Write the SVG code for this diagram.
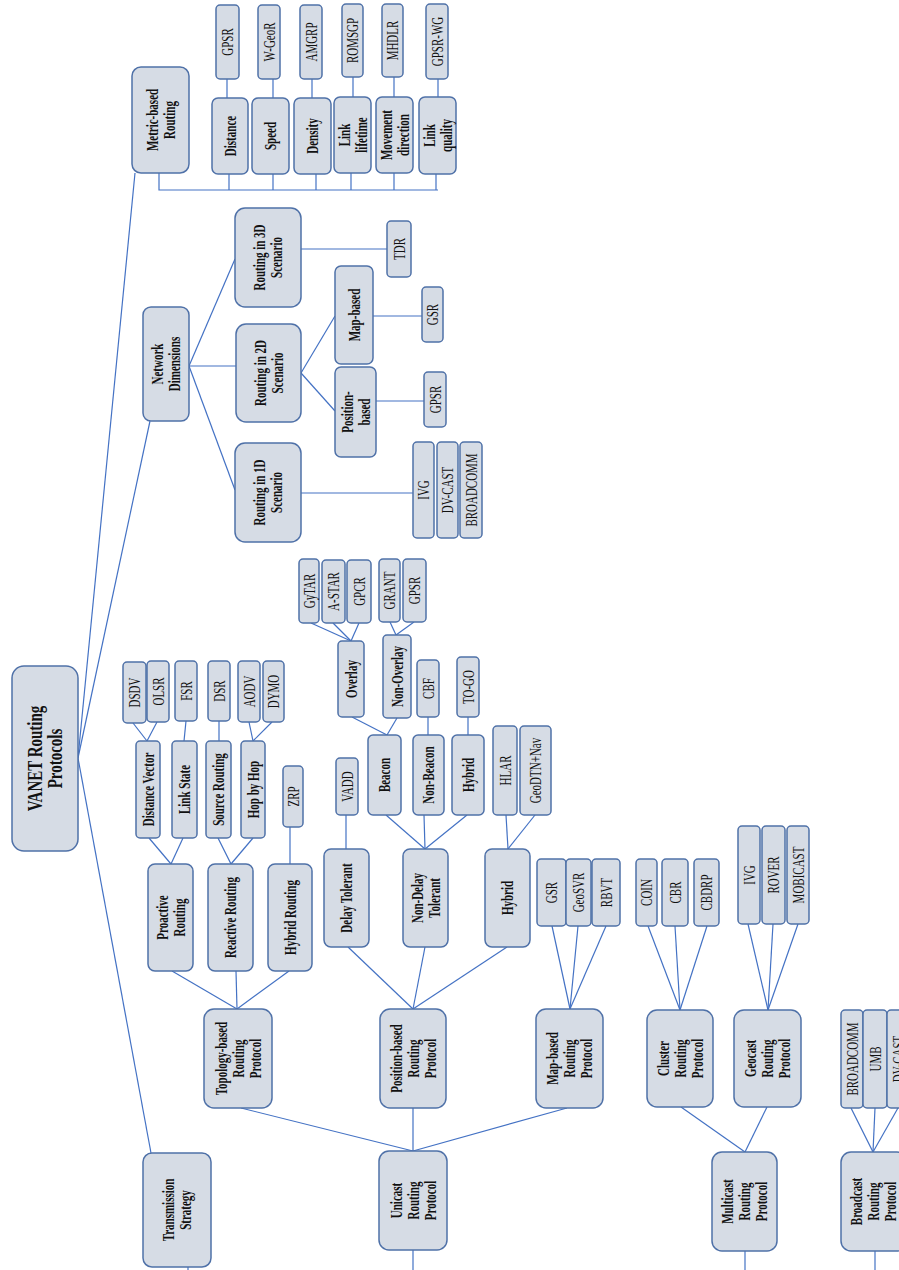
<svg xmlns="http://www.w3.org/2000/svg" width="899" height="1270" viewBox="0 0 899 1270">
<style>
rect{fill:#d6dce5;stroke:#4f71a8;stroke-width:1.5}
#connectors line,#connectors polyline{stroke:#4472c4;stroke-width:1.2;fill:none}
text{font-family:"Liberation Serif","Times New Roman",serif;fill:#111;text-anchor:middle}
.b{font-size:11px;font-weight:bold}
.r{font-size:11px}
.h{font-size:15px;font-weight:bold}
</style>
<rect width="899" height="1270" style="fill:#fff;stroke:none"/>
<g id="connectors">
<line x1="78" y1="758" x2="135" y2="173"/>
<line x1="78" y1="758" x2="150" y2="421"/>
<line x1="78" y1="758" x2="151" y2="1153"/>
<polyline points="159,173 159,190 438,190"/>
<line x1="229" y1="174" x2="229" y2="190"/>
<line x1="273" y1="174" x2="273" y2="190"/>
<line x1="316" y1="174" x2="316" y2="190"/>
<line x1="351" y1="173" x2="351" y2="190"/>
<line x1="394" y1="173" x2="394" y2="190"/>
<line x1="436" y1="174" x2="436" y2="190"/>
<line x1="227" y1="79" x2="227" y2="98"/>
<line x1="273" y1="79" x2="273" y2="98"/>
<line x1="312" y1="79" x2="312" y2="98"/>
<line x1="353" y1="77" x2="353" y2="97"/>
<line x1="394" y1="77" x2="394" y2="97"/>
<line x1="438" y1="79" x2="438" y2="97"/>
<line x1="189" y1="366" x2="235" y2="259"/>
<line x1="189" y1="366" x2="236" y2="366"/>
<line x1="189" y1="366" x2="235" y2="490"/>
<line x1="301" y1="249" x2="387" y2="249"/>
<line x1="301" y1="373" x2="335" y2="316"/>
<line x1="301" y1="373" x2="335" y2="411"/>
<line x1="373" y1="316" x2="422" y2="316"/>
<line x1="376" y1="401" x2="424" y2="401"/>
<line x1="301" y1="493" x2="413" y2="493"/>
<line x1="133" y1="723" x2="147" y2="741"/>
<line x1="157" y1="722" x2="147" y2="741"/>
<line x1="186" y1="721" x2="184" y2="741"/>
<line x1="219" y1="721" x2="219" y2="741"/>
<line x1="249" y1="722" x2="253" y2="741"/>
<line x1="272" y1="722" x2="253" y2="741"/>
<line x1="149" y1="838" x2="171" y2="864"/>
<line x1="183" y1="838" x2="171" y2="864"/>
<line x1="218" y1="838" x2="231" y2="864"/>
<line x1="253" y1="838" x2="231" y2="864"/>
<line x1="290" y1="827" x2="290" y2="864"/>
<line x1="172" y1="971" x2="237" y2="1009"/>
<line x1="236" y1="971" x2="237" y2="1009"/>
<line x1="289" y1="971" x2="237" y2="1009"/>
<line x1="311" y1="623" x2="351" y2="641"/>
<line x1="333" y1="623" x2="351" y2="641"/>
<line x1="359" y1="623" x2="351" y2="641"/>
<line x1="390" y1="622" x2="396" y2="635"/>
<line x1="414" y1="622" x2="396" y2="635"/>
<line x1="352" y1="717" x2="387" y2="735"/>
<line x1="397" y1="718" x2="387" y2="735"/>
<line x1="428" y1="717" x2="428" y2="735"/>
<line x1="468" y1="717" x2="468" y2="735"/>
<line x1="346" y1="815" x2="346" y2="849"/>
<line x1="386" y1="815" x2="425" y2="849"/>
<line x1="424" y1="815" x2="425" y2="849"/>
<line x1="467" y1="815" x2="425" y2="849"/>
<line x1="506" y1="815" x2="508" y2="849"/>
<line x1="535" y1="815" x2="508" y2="849"/>
<line x1="348" y1="947" x2="413" y2="1009"/>
<line x1="425" y1="947" x2="413" y2="1009"/>
<line x1="507" y1="947" x2="413" y2="1009"/>
<line x1="552" y1="926" x2="570" y2="1009"/>
<line x1="578" y1="926" x2="570" y2="1009"/>
<line x1="606" y1="926" x2="570" y2="1009"/>
<line x1="648" y1="926" x2="680" y2="1010"/>
<line x1="675" y1="926" x2="680" y2="1010"/>
<line x1="707" y1="926" x2="680" y2="1010"/>
<line x1="748" y1="924" x2="768" y2="1010"/>
<line x1="773" y1="924" x2="768" y2="1010"/>
<line x1="798" y1="924" x2="768" y2="1010"/>
<line x1="241" y1="1108" x2="413" y2="1151"/>
<line x1="413" y1="1108" x2="413" y2="1151"/>
<line x1="567" y1="1108" x2="413" y2="1151"/>
<line x1="681" y1="1107" x2="745" y2="1152"/>
<line x1="767" y1="1107" x2="745" y2="1152"/>
<line x1="851" y1="1108" x2="873" y2="1152"/>
<line x1="875" y1="1108" x2="873" y2="1152"/>
<line x1="898" y1="1108" x2="873" y2="1152"/>
<line x1="413" y1="1250" x2="413" y2="1270"/>
<line x1="745" y1="1251" x2="745" y2="1270"/>
<line x1="875" y1="1251" x2="875" y2="1270"/>
<line x1="188" y1="1267" x2="188" y2="1270"/>
</g>

<g id="root"><rect x="12" y="666" width="66" height="185" rx="12"/><text class="h" transform="translate(45 758.5) rotate(-90) scale(1 1.45)"><tspan x="0" y="-2">VANET Routing</tspan><tspan x="0" y="12">Protocols</tspan></text></g>
<g id="metric"><rect x="132" y="67" width="57" height="106" rx="9"/><text class="b" transform="translate(160.5 120) rotate(-90) scale(1 1.55)"><tspan x="0" y="-1.8">Metric-based</tspan><tspan x="0" y="9.2">Routing</tspan></text></g>
<g id="netdim"><rect x="143" y="307" width="46" height="114" rx="8"/><text class="b" transform="translate(166 364) rotate(-90) scale(1 1.55)"><tspan x="0" y="-1.8">Network</tspan><tspan x="0" y="9.2">Dimensions</tspan></text></g>
<g id="trans"><rect x="143" y="1153" width="68" height="114" rx="9"/><text class="b" transform="translate(177 1210) rotate(-90) scale(1 1.55)"><tspan x="0" y="-1.8">Transmission</tspan><tspan x="0" y="9.2">Strategy</tspan></text></g>

<g id="m-distance"><rect x="212" y="98" width="36" height="76" rx="6"/><text class="b" transform="translate(230 136) rotate(-90) scale(1 1.55)"><tspan x="0" y="3.7">Distance</tspan></text></g>
<g id="m-speed"><rect x="252" y="98" width="37" height="76" rx="6"/><text class="b" transform="translate(270.5 136) rotate(-90) scale(1 1.55)"><tspan x="0" y="3.7">Speed</tspan></text></g>
<g id="m-density"><rect x="294" y="98" width="37" height="76" rx="6"/><text class="b" transform="translate(312.5 136) rotate(-90) scale(1 1.55)"><tspan x="0" y="3.7">Density</tspan></text></g>
<g id="m-lifetime"><rect x="334" y="97" width="37" height="76" rx="6"/><text class="b" transform="translate(352.5 135) rotate(-90) scale(1 1.55)"><tspan x="0" y="-1.8">Link</tspan><tspan x="0" y="9.2">lifetime</tspan></text></g>
<g id="m-movement"><rect x="376" y="97" width="37" height="76" rx="6"/><text class="b" transform="translate(394.5 135) rotate(-90) scale(1 1.55)"><tspan x="0" y="-1.8">Movement</tspan><tspan x="0" y="9.2">direction</tspan></text></g>
<g id="m-quality"><rect x="419" y="97" width="37" height="77" rx="6"/><text class="b" transform="translate(437.5 135.5) rotate(-90) scale(1 1.55)"><tspan x="0" y="-1.8">Link</tspan><tspan x="0" y="9.2">quality</tspan></text></g>

<g id="l-gpsr1"><rect x="216" y="5" width="23" height="74" rx="4"/><text class="r" transform="translate(227.5 42) rotate(-90) scale(1 1.55)"><tspan x="0" y="3.7">GPSR</tspan></text></g>
<g id="l-wgeor"><rect x="258" y="5" width="22" height="74" rx="4"/><text class="r" transform="translate(269 42) rotate(-90) scale(1 1.55)"><tspan x="0" y="3.7">W-GeoR</tspan></text></g>
<g id="l-amgrp"><rect x="300" y="5" width="22" height="74" rx="4"/><text class="r" transform="translate(311 42) rotate(-90) scale(1 1.55)"><tspan x="0" y="3.7">AMGRP</tspan></text></g>
<g id="l-romsgp"><rect x="342" y="4" width="21" height="73" rx="4"/><text class="r" transform="translate(352.5 40.5) rotate(-90) scale(1 1.55)"><tspan x="0" y="3.7">ROMSGP</tspan></text></g>
<g id="l-mhdlr"><rect x="382" y="4" width="21" height="73" rx="4"/><text class="r" transform="translate(392.5 40.5) rotate(-90) scale(1 1.55)"><tspan x="0" y="3.7">MHDLR</tspan></text></g>
<g id="l-gpsrwg"><rect x="426" y="4" width="22" height="75" rx="4"/><text class="r" transform="translate(437 41.5) rotate(-90) scale(1 1.55)"><tspan x="0" y="3.7">GPSR-WG</tspan></text></g>

<g id="nd-3d"><rect x="235" y="208" width="66" height="99" rx="10"/><text class="b" transform="translate(268 257.5) rotate(-90) scale(1 1.55)"><tspan x="0" y="-1.8">Routing in 3D</tspan><tspan x="0" y="9.2">Scenario</tspan></text></g>
<g id="nd-2d"><rect x="236" y="324" width="65" height="98" rx="10"/><text class="b" transform="translate(268.5 373) rotate(-90) scale(1 1.55)"><tspan x="0" y="-1.8">Routing in 2D</tspan><tspan x="0" y="9.2">Scenario</tspan></text></g>
<g id="nd-1d"><rect x="235" y="443" width="66" height="99" rx="10"/><text class="b" transform="translate(268 492.5) rotate(-90) scale(1 1.55)"><tspan x="0" y="-1.8">Routing in 1D</tspan><tspan x="0" y="9.2">Scenario</tspan></text></g>
<g id="nd-map"><rect x="335" y="266" width="38" height="98" rx="6"/><text class="b" transform="translate(354 315) rotate(-90) scale(1 1.55)"><tspan x="0" y="3.7">Map-based</tspan></text></g>
<g id="nd-pos"><rect x="335" y="367" width="41" height="90" rx="6"/><text class="b" transform="translate(355.5 412) rotate(-90) scale(1 1.55)"><tspan x="0" y="-1.8">Position-</tspan><tspan x="0" y="9.2">based</tspan></text></g>
<g id="nd-tdr"><rect x="387" y="221" width="24" height="56" rx="4"/><text class="r" transform="translate(399 249) rotate(-90) scale(1 1.55)"><tspan x="0" y="3.7">TDR</tspan></text></g>
<g id="nd-gsr"><rect x="422" y="287" width="21" height="55" rx="4"/><text class="r" transform="translate(432.5 314.5) rotate(-90) scale(1 1.55)"><tspan x="0" y="3.7">GSR</tspan></text></g>
<g id="nd-gpsr"><rect x="424" y="372" width="22" height="55" rx="4"/><text class="r" transform="translate(435 399.5) rotate(-90) scale(1 1.55)"><tspan x="0" y="3.7">GPSR</tspan></text></g>
<g id="nd-ivg"><rect x="413" y="442" width="21" height="96" rx="4"/><text class="r" transform="translate(423.5 490) rotate(-90) scale(1 1.55)"><tspan x="0" y="3.7">IVG</tspan></text></g>
<g id="nd-dvcast"><rect x="437" y="442" width="21" height="96" rx="4"/><text class="r" transform="translate(447.5 490) rotate(-90) scale(1 1.55)"><tspan x="0" y="3.7">DV-CAST</tspan></text></g>
<g id="nd-broadcomm"><rect x="460" y="442" width="22" height="96" rx="4"/><text class="r" transform="translate(471 490) rotate(-90) scale(1 1.55)"><tspan x="0" y="3.7">BROADCOMM</tspan></text></g>

<g id="topo"><rect x="204" y="1009" width="68" height="99" rx="10"/><text class="b" transform="translate(238 1058.5) rotate(-90) scale(1 1.55)"><tspan x="0" y="-7.3">Topology-based</tspan><tspan x="0" y="3.7">Routing</tspan><tspan x="0" y="14.7">Protocol</tspan></text></g>
<g id="proactive"><rect x="148" y="864" width="45" height="107" rx="7"/><text class="b" transform="translate(170.5 917.5) rotate(-90) scale(1 1.55)"><tspan x="0" y="-1.8">Proactive</tspan><tspan x="0" y="9.2">Routing</tspan></text></g>
<g id="reactive"><rect x="208" y="864" width="45" height="107" rx="7"/><text class="b" transform="translate(230.5 917.5) rotate(-90) scale(1 1.55)"><tspan x="0" y="3.7">Reactive Routing</tspan></text></g>
<g id="hybridrouting"><rect x="268" y="864" width="44" height="107" rx="7"/><text class="b" transform="translate(290 917.5) rotate(-90) scale(1 1.55)"><tspan x="0" y="3.7">Hybrid Routing</tspan></text></g>
<g id="distvector"><rect x="136" y="741" width="24" height="97" rx="4"/><text class="b" transform="translate(148 789.5) rotate(-90) scale(1 1.55)"><tspan x="0" y="3.7">Distance Vector</tspan></text></g>
<g id="linkstate"><rect x="172" y="741" width="25" height="97" rx="4"/><text class="b" transform="translate(184.5 789.5) rotate(-90) scale(1 1.55)"><tspan x="0" y="3.7">Link State</tspan></text></g>
<g id="sourcerouting"><rect x="206" y="741" width="25" height="97" rx="4"/><text class="b" transform="translate(218.5 789.5) rotate(-90) scale(1 1.55)"><tspan x="0" y="3.7">Source Routing</tspan></text></g>
<g id="hopbyhop"><rect x="241" y="741" width="24" height="97" rx="4"/><text class="b" transform="translate(253 789.5) rotate(-90) scale(1 1.55)"><tspan x="0" y="3.7">Hop by Hop</tspan></text></g>
<g id="zrp"><rect x="283" y="766" width="20" height="61" rx="4"/><text class="r" transform="translate(293 796.5) rotate(-90) scale(1 1.55)"><tspan x="0" y="3.7">ZRP</tspan></text></g>
<g id="dsdv"><rect x="123" y="662" width="23" height="61" rx="4"/><text class="r" transform="translate(134.5 692.5) rotate(-90) scale(1 1.55)"><tspan x="0" y="3.7">DSDV</tspan></text></g>
<g id="olsr"><rect x="147" y="661" width="22" height="61" rx="4"/><text class="r" transform="translate(158 691.5) rotate(-90) scale(1 1.55)"><tspan x="0" y="3.7">OLSR</tspan></text></g>
<g id="fsr"><rect x="175" y="661" width="22" height="60" rx="4"/><text class="r" transform="translate(186 691) rotate(-90) scale(1 1.55)"><tspan x="0" y="3.7">FSR</tspan></text></g>
<g id="dsr"><rect x="208" y="661" width="22" height="60" rx="4"/><text class="r" transform="translate(219 691) rotate(-90) scale(1 1.55)"><tspan x="0" y="3.7">DSR</tspan></text></g>
<g id="aodv"><rect x="238" y="661" width="22" height="61" rx="4"/><text class="r" transform="translate(249 691.5) rotate(-90) scale(1 1.55)"><tspan x="0" y="3.7">AODV</tspan></text></g>
<g id="dymo"><rect x="263" y="661" width="21" height="61" rx="4"/><text class="r" transform="translate(273.5 691.5) rotate(-90) scale(1 1.55)"><tspan x="0" y="3.7">DYMO</tspan></text></g>

<g id="posrp"><rect x="380" y="1009" width="66" height="99" rx="10"/><text class="b" transform="translate(413 1058.5) rotate(-90) scale(1 1.55)"><tspan x="0" y="-7.3">Position-based</tspan><tspan x="0" y="3.7">Routing</tspan><tspan x="0" y="14.7">Protocol</tspan></text></g>
<g id="delaytol"><rect x="324" y="849" width="45" height="98" rx="7"/><text class="b" transform="translate(346.5 898) rotate(-90) scale(1 1.55)"><tspan x="0" y="3.7">Delay Tolerant</tspan></text></g>
<g id="nondelay"><rect x="403" y="849" width="45" height="98" rx="7"/><text class="b" transform="translate(425.5 898) rotate(-90) scale(1 1.55)"><tspan x="0" y="-1.8">Non-Delay</tspan><tspan x="0" y="9.2">Tolerant</tspan></text></g>
<g id="hybridpos"><rect x="485" y="849" width="45" height="98" rx="7"/><text class="b" transform="translate(507.5 898) rotate(-90) scale(1 1.55)"><tspan x="0" y="3.7">Hybrid</tspan></text></g>
<g id="vadd"><rect x="336" y="758" width="22" height="57" rx="4"/><text class="r" transform="translate(347 786.5) rotate(-90) scale(1 1.55)"><tspan x="0" y="3.7">VADD</tspan></text></g>
<g id="beacon"><rect x="368" y="735" width="33" height="80" rx="5"/><text class="b" transform="translate(384.5 775) rotate(-90) scale(1 1.55)"><tspan x="0" y="3.7">Beacon</tspan></text></g>
<g id="nonbeacon"><rect x="413" y="735" width="31" height="80" rx="5"/><text class="b" transform="translate(428.5 775) rotate(-90) scale(1 1.55)"><tspan x="0" y="3.7">Non-Beacon</tspan></text></g>
<g id="hybridndt"><rect x="452" y="735" width="32" height="80" rx="5"/><text class="b" transform="translate(468 775) rotate(-90) scale(1 1.55)"><tspan x="0" y="3.7">Hybrid</tspan></text></g>
<g id="hlar"><rect x="493" y="726" width="24" height="89" rx="4"/><text class="r" transform="translate(505 770.5) rotate(-90) scale(1 1.55)"><tspan x="0" y="3.7">HLAR</tspan></text></g>
<g id="geodtn"><rect x="520" y="726" width="31" height="89" rx="4"/><text class="r" transform="translate(535.5 770.5) rotate(-90) scale(1 1.55)"><tspan x="0" y="3.7">GeoDTN+Nav</tspan></text></g>
<g id="overlay"><rect x="338" y="641" width="26" height="76" rx="4"/><text class="b" transform="translate(351 679) rotate(-90) scale(1 1.55)"><tspan x="0" y="3.7">Overlay</tspan></text></g>
<g id="nonoverlay"><rect x="383" y="635" width="28" height="83" rx="4"/><text class="b" transform="translate(397 676.5) rotate(-90) scale(1 1.55)"><tspan x="0" y="3.7">Non-Overlay</tspan></text></g>
<g id="cbf"><rect x="417" y="660" width="22" height="57" rx="4"/><text class="r" transform="translate(428 688.5) rotate(-90) scale(1 1.55)"><tspan x="0" y="3.7">CBF</tspan></text></g>
<g id="togo"><rect x="457" y="657" width="22" height="60" rx="4"/><text class="r" transform="translate(468 687) rotate(-90) scale(1 1.55)"><tspan x="0" y="3.7">TO-GO</tspan></text></g>
<g id="gytar"><rect x="299" y="559" width="20" height="64" rx="4"/><text class="r" transform="translate(309 591) rotate(-90) scale(1 1.55)"><tspan x="0" y="3.7">GyTAR</tspan></text></g>
<g id="astar"><rect x="322" y="560" width="23" height="63" rx="4"/><text class="r" transform="translate(333.5 591.5) rotate(-90) scale(1 1.55)"><tspan x="0" y="3.7">A-STAR</tspan></text></g>
<g id="gpcr"><rect x="347" y="560" width="24" height="63" rx="4"/><text class="r" transform="translate(359 591.5) rotate(-90) scale(1 1.55)"><tspan x="0" y="3.7">GPCR</tspan></text></g>
<g id="grant"><rect x="379" y="559" width="21" height="63" rx="4"/><text class="r" transform="translate(389.5 590.5) rotate(-90) scale(1 1.55)"><tspan x="0" y="3.7">GRANT</tspan></text></g>
<g id="gpsr-no"><rect x="403" y="559" width="23" height="63" rx="4"/><text class="r" transform="translate(414.5 590.5) rotate(-90) scale(1 1.55)"><tspan x="0" y="3.7">GPSR</tspan></text></g>

<g id="maprp"><rect x="536" y="1009" width="67" height="99" rx="10"/><text class="b" transform="translate(569.5 1058.5) rotate(-90) scale(1 1.55)"><tspan x="0" y="-7.3">Map-based</tspan><tspan x="0" y="3.7">Routing</tspan><tspan x="0" y="14.7">Protocol</tspan></text></g>
<g id="gsr-map"><rect x="537" y="859" width="29" height="67" rx="4"/><text class="r" transform="translate(551.5 892.5) rotate(-90) scale(1 1.55)"><tspan x="0" y="3.7">GSR</tspan></text></g>
<g id="geosvr"><rect x="566" y="859" width="25" height="67" rx="4"/><text class="r" transform="translate(578.5 892.5) rotate(-90) scale(1 1.55)"><tspan x="0" y="3.7">GeoSVR</tspan></text></g>
<g id="rbvt"><rect x="592" y="859" width="28" height="67" rx="4"/><text class="r" transform="translate(606 892.5) rotate(-90) scale(1 1.55)"><tspan x="0" y="3.7">RBVT</tspan></text></g>

<g id="cluster"><rect x="647" y="1010" width="66" height="97" rx="10"/><text class="b" transform="translate(680 1058.5) rotate(-90) scale(1 1.55)"><tspan x="0" y="-7.3">Cluster</tspan><tspan x="0" y="3.7">Routing</tspan><tspan x="0" y="14.7">Protocol</tspan></text></g>
<g id="coin"><rect x="636" y="859" width="21" height="67" rx="4"/><text class="r" transform="translate(646.5 892.5) rotate(-90) scale(1 1.55)"><tspan x="0" y="3.7">COIN</tspan></text></g>
<g id="cbr"><rect x="662" y="859" width="26" height="67" rx="4"/><text class="r" transform="translate(675 892.5) rotate(-90) scale(1 1.55)"><tspan x="0" y="3.7">CBR</tspan></text></g>
<g id="cbdrp"><rect x="694" y="859" width="25" height="67" rx="4"/><text class="r" transform="translate(706.5 892.5) rotate(-90) scale(1 1.55)"><tspan x="0" y="3.7">CBDRP</tspan></text></g>

<g id="geocast"><rect x="734" y="1010" width="67" height="97" rx="10"/><text class="b" transform="translate(767.5 1058.5) rotate(-90) scale(1 1.55)"><tspan x="0" y="-7.3">Geocast</tspan><tspan x="0" y="3.7">Routing</tspan><tspan x="0" y="14.7">Protocol</tspan></text></g>
<g id="ivg-geo"><rect x="738" y="826" width="22" height="98" rx="4"/><text class="r" transform="translate(749 875) rotate(-90) scale(1 1.55)"><tspan x="0" y="3.7">IVG</tspan></text></g>
<g id="rover"><rect x="762" y="826" width="23" height="98" rx="4"/><text class="r" transform="translate(773.5 875) rotate(-90) scale(1 1.55)"><tspan x="0" y="3.7">ROVER</tspan></text></g>
<g id="mobicast"><rect x="787" y="826" width="22" height="98" rx="4"/><text class="r" transform="translate(798 875) rotate(-90) scale(1 1.55)"><tspan x="0" y="3.7">MOBICAST</tspan></text></g>

<g id="unicast"><rect x="379" y="1151" width="68" height="99" rx="10"/><text class="b" transform="translate(413 1200.5) rotate(-90) scale(1 1.55)"><tspan x="0" y="-7.3">Unicast</tspan><tspan x="0" y="3.7">Routing</tspan><tspan x="0" y="14.7">Protocol</tspan></text></g>
<g id="multicast"><rect x="712" y="1152" width="65" height="99" rx="10"/><text class="b" transform="translate(744.5 1201.5) rotate(-90) scale(1 1.55)"><tspan x="0" y="-7.3">Multicast</tspan><tspan x="0" y="3.7">Routing</tspan><tspan x="0" y="14.7">Protocol</tspan></text></g>
<g id="broadcast"><rect x="841" y="1152" width="66" height="99" rx="10"/><text class="b" transform="translate(873.5 1201.5) rotate(-90) scale(1 1.55)"><tspan x="0" y="-7.3">Broadcast</tspan><tspan x="0" y="3.7">Routing</tspan><tspan x="0" y="14.7">Protocol</tspan></text></g>
<g id="broadcomm-b"><rect x="841" y="1010" width="22" height="98" rx="4"/><text class="r" transform="translate(852 1059) rotate(-90) scale(1 1.55)"><tspan x="0" y="3.7">BROADCOMM</tspan></text></g>
<g id="umb"><rect x="863" y="1010" width="24" height="98" rx="4"/><text class="r" transform="translate(875 1059) rotate(-90) scale(1 1.55)"><tspan x="0" y="3.7">UMB</tspan></text></g>
<g id="dvcast-b"><rect x="887" y="1010" width="23" height="98" rx="4"/><text class="r" transform="translate(898.5 1059) rotate(-90) scale(1 1.55)"><tspan x="0" y="3.7">DV-CAST</tspan></text></g>
</svg>
